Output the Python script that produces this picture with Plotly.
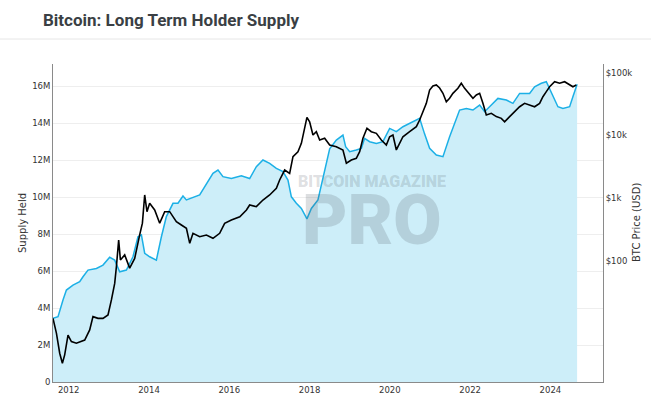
import plotly.graph_objects as go

# Long Term Holder supply (millions of BTC), by decimal year
lth_years = [2011.609, 2011.734, 2011.858, 2011.943, 2012.107, 2012.274, 2012.356, 2012.481,
             2012.690, 2012.854, 2013.021, 2013.146, 2013.270, 2013.437, 2013.601, 2013.726,
             2013.811, 2013.893, 2014.017, 2014.184, 2014.309, 2014.433, 2014.598, 2014.722,
             2014.847, 2014.932, 2015.263, 2015.430, 2015.594, 2015.719, 2015.843, 2016.052,
             2016.301, 2016.508, 2016.675, 2016.839, 2017.006, 2017.173, 2017.337, 2017.462,
             2017.547, 2017.671, 2017.796, 2017.935, 2018.045, 2018.209, 2018.376, 2018.501,
             2018.667, 2018.832, 2018.899, 2018.999, 2019.165, 2019.290, 2019.372, 2019.497,
             2019.664, 2019.828, 2019.995, 2020.162, 2020.326, 2020.493, 2020.618, 2020.742,
             2020.867, 2020.991, 2021.158, 2021.323, 2021.489, 2021.738, 2021.905, 2022.070,
             2022.237, 2022.361, 2022.528, 2022.692, 2022.902, 2023.066, 2023.233, 2023.482,
             2023.606, 2023.773, 2023.898, 2023.980, 2024.105, 2024.187, 2024.312, 2024.479,
             2024.560, 2024.645, 2024.665]
lth_supply_m = [3.44, 3.53, 4.43, 4.97, 5.24, 5.42, 5.69, 6.05,
                6.14, 6.32, 6.74, 6.59, 5.96, 6.05, 6.77, 7.85,
                7.95, 6.96, 6.77, 6.59, 7.85, 8.94, 9.66, 9.66,
                10.05, 9.84, 10.11, 10.74, 11.28, 11.46, 11.10, 11.00,
                11.15, 11.00, 11.64, 12.00, 11.82, 11.55, 11.37, 10.92,
                10.01, 9.66, 9.38, 8.82, 9.38, 9.84, 11.46, 12.60,
                13.08, 13.35, 12.72, 12.45, 12.54, 12.63, 13.17, 12.99,
                12.90, 12.99, 13.71, 13.53, 13.80, 13.98, 14.16, 14.25,
                13.40, 12.63, 12.27, 12.18, 13.26, 14.70, 14.79, 14.70,
                14.97, 14.61, 14.97, 15.33, 15.24, 15.06, 15.60, 15.60,
                15.96, 16.15, 16.23, 15.87, 15.33, 14.88, 14.79, 14.88,
                15.42, 16.05, 16.10]

# BTC price (USD), by decimal year
price_years = [2011.609, 2011.694, 2011.776, 2011.843, 2011.900, 2011.983, 2012.067, 2012.192,
               2012.399, 2012.523, 2012.605, 2012.730, 2012.854, 2012.979, 2013.064, 2013.146,
               2013.188, 2013.245, 2013.288, 2013.395, 2013.519, 2013.644, 2013.768, 2013.836,
               2013.893, 2013.950, 2014.017, 2014.142, 2014.267, 2014.391, 2014.516, 2014.682,
               2014.807, 2014.932, 2015.015, 2015.096, 2015.263, 2015.430, 2015.594, 2015.761,
               2015.885, 2016.052, 2016.262, 2016.428, 2016.508, 2016.675, 2016.839, 2017.006,
               2017.173, 2017.255, 2017.380, 2017.504, 2017.587, 2017.711, 2017.796, 2017.878,
               2017.935, 2018.002, 2018.085, 2018.169, 2018.252, 2018.376, 2018.501, 2018.667,
               2018.832, 2018.917, 2019.041, 2019.165, 2019.248, 2019.330, 2019.430, 2019.539,
               2019.664, 2019.788, 2019.913, 2019.995, 2020.077, 2020.162, 2020.244, 2020.326,
               2020.493, 2020.660, 2020.742, 2020.909, 2020.991, 2021.073, 2021.158, 2021.240,
               2021.323, 2021.407, 2021.489, 2021.571, 2021.696, 2021.780, 2021.863, 2021.989,
               2022.070, 2022.155, 2022.237, 2022.319, 2022.403, 2022.528, 2022.652, 2022.777,
               2022.859, 2022.984, 2023.108, 2023.233, 2023.357, 2023.482, 2023.606, 2023.731,
               2023.813, 2023.898, 2023.980, 2024.105, 2024.229, 2024.354, 2024.479, 2024.560,
               2024.645]
btc_price = [12.2, 7.1, 3.4, 2.35, 3.2, 6.6, 5.2, 4.9,
             5.5, 8.0, 13.0, 12.2, 12.2, 13.8, 24, 44,
             81, 216, 104, 125, 77, 110, 260, 400,
             1125, 610, 830, 650, 400, 610, 610, 423,
             374, 332, 191, 276, 244, 259, 230, 276,
             398, 450, 507, 648, 780, 733, 935, 1125,
             1440, 1950, 2810, 2490, 4580, 5500, 7480, 13760,
             19420, 16520, 10140, 11450, 8450, 8990, 7030, 6610,
             5860, 3600, 4060, 4310, 5500, 8990, 12970, 11450,
             10790, 8450, 7030, 9520, 10140, 5860, 7480, 9520,
             11450, 13760, 17570, 32400, 52800, 61200, 63500, 56900,
             46800, 34400, 39000, 46800, 56200, 67600, 56200, 44000,
             39000, 44000, 46800, 32400, 21100, 22500, 19900, 18700,
             16500, 19900, 23800, 28600, 32400, 30500, 28600, 32400,
             41300, 49700, 59600, 71600, 67600, 71600, 63500, 59600,
             63500]

x_ticks = [2012, 2014, 2016, 2018, 2020, 2022, 2024]
supply_ticks = [0, 2, 4, 6, 8, 10, 12, 14, 16]
supply_labels = ["0", "2M", "4M", "6M", "8M", "10M", "12M", "14M", "16M"]
price_ticks = [100, 1000, 10000, 100000]
price_labels = ["$100", "$1k", "$10k", "$100k"]

tick_font = dict(family="DejaVu Sans, Verdana, sans-serif", size=8.5, color="#333333")
axis_title_font = dict(family="DejaVu Sans, Verdana, sans-serif", size=10, color="#333333")
watermark_color = "rgba(90,100,110,0.21)"

fig = go.Figure()
fig.add_trace(go.Scatter(
    x=lth_years, y=lth_supply_m, mode="lines", name="Long Term Holder Supply",
    line=dict(color="#1cb0e6", width=1.5), fill="tozeroy", fillcolor="#cdeef9",
    yaxis="y"))
fig.add_trace(go.Scatter(
    x=price_years, y=btc_price, mode="lines", name="BTC Price",
    line=dict(color="#000000", width=1.6), yaxis="y2"))

fig.update_layout(
    width=651, height=398,
    margin=dict(l=53, r=48, t=64, b=16, autoexpand=False),
    paper_bgcolor="white", plot_bgcolor="white",
    showlegend=False,
    title=dict(text="Bitcoin: Long Term Holder Supply", x=43 / 651, xanchor="left",
               y=1 - 20 / 398, yanchor="middle",
               font=dict(family="Roboto, Inter, sans-serif", size=17, color="#3a3f44", weight=700)),
    xaxis=dict(range=[2011.609, 2025.31], tickvals=x_ticks, ticktext=[str(t) for t in x_ticks],
               showgrid=False, zeroline=False, showline=True, linecolor="#8a8a8a", linewidth=1,
               ticks="", tickfont=tick_font, automargin=False),
    yaxis=dict(range=[0, 17.19], tickvals=supply_ticks, ticktext=supply_labels,
               showgrid=True, gridcolor="#eeeeee", gridwidth=1, zeroline=False,
               showline=True, linecolor="#8a8a8a", linewidth=1, ticks="",
               tickfont=tick_font, automargin=False),
    yaxis2=dict(type="log", range=[0.073, 5.137], overlaying="y", side="right",
                tickvals=price_ticks, ticktext=price_labels, showgrid=False, zeroline=False,
                showline=True, linecolor="#8a8a8a", linewidth=1, ticks="",
                tickfont=tick_font, automargin=False),
    shapes=[dict(type="line", xref="paper", yref="paper", x0=-0.2, x1=1.2,
                 y0=(382 - 39) / 318, y1=(382 - 39) / 318,
                 line=dict(color="#e6e6e6", width=1))],
    annotations=[
        dict(text="Supply Held", xref="paper", yref="paper", x=(22 - 53) / 550, y=0.5,
             textangle=-90, showarrow=False, xanchor="center", yanchor="middle",
             font=axis_title_font),
        dict(text="BTC Price (USD)", xref="paper", yref="paper", x=(636 - 53) / 550, y=0.5,
             textangle=-90, showarrow=False, xanchor="center", yanchor="middle",
             font=axis_title_font),
        dict(text="BITCOIN MAGAZINE", xref="paper", yref="paper", x=(371.5 - 53) / 550,
             y=(382 - 181) / 318, showarrow=False, xanchor="center", yanchor="middle",
             font=dict(family="Roboto, sans-serif", size=16, color=watermark_color, weight=900)),
        dict(text="PRO", xref="paper", yref="paper", x=(371.5 - 53) / 550,
             y=(382 - 220) / 318, showarrow=False, xanchor="center", yanchor="middle",
             font=dict(family="Roboto, sans-serif", size=70, color=watermark_color, weight=900)),
    ],
)

fig.write_html("out.html", config={"displayModeBar": False},
               post_script="document.body.style.margin='0';")
